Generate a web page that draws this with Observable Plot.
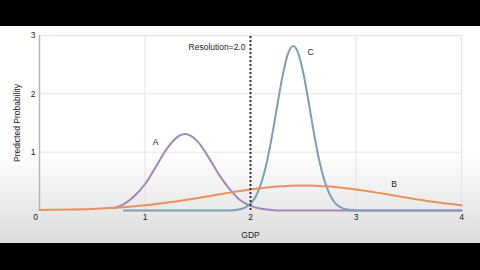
<!DOCTYPE html>
<html>
<head>
<meta charset="utf-8">
<script src="https://cdn.jsdelivr.net/npm/d3@7"></script>
<script src="https://cdn.jsdelivr.net/npm/@observablehq/plot@0.6"></script>
<style>
  html, body { margin: 0; padding: 0; background: #000; width: 480px; height: 270px; overflow: hidden; }
  #top { height: 26px; background: #000; }
  #chart { width: 480px; height: 217px; background: linear-gradient(to bottom, #ffffff 0%, #ffffff 58%, #dcdcdc 100%); }
</style>
</head>
<body>
<div id="top"></div>
<div id="chart"></div>
<script>
// Curve A (purple)
const xA = [0.7, 0.8, 0.9, 1.0, 1.1, 1.2, 1.3, 1.38, 1.5, 1.6, 1.7, 1.8, 1.9, 2.0, 2.1, 2.2, 2.3, 2.5, 3.0, 4.0];
const yA = [0.04, 0.11, 0.25, 0.45, 0.74, 1.04, 1.25, 1.31, 1.18, 0.92, 0.62, 0.37, 0.18, 0.08, 0.03, 0.01, 0, 0, 0, 0];
// Curve B (orange)
const xB = [0, 0.25, 0.5, 0.75, 1.0, 1.25, 1.5, 1.75, 2.0, 2.25, 2.5, 2.75, 3.0, 3.25, 3.5, 3.75, 4.0];
const yB = [0.01, 0.015, 0.027, 0.052, 0.09, 0.146, 0.215, 0.29, 0.36, 0.41, 0.43, 0.41, 0.36, 0.29, 0.215, 0.146, 0.09];
// Curve C (blue-grey)
const xC = [0.8, 1.8, 1.9, 2.0, 2.05, 2.1, 2.15, 2.2, 2.25, 2.3, 2.35, 2.405, 2.45, 2.5, 2.55, 2.6, 2.65, 2.7, 2.75, 2.8, 2.85, 2.9, 3.0, 4.0];
const yC = [0, 0, 0.02, 0.12, 0.24, 0.46, 0.79, 1.24, 1.76, 2.27, 2.66, 2.82, 2.71, 2.36, 1.87, 1.34, 0.87, 0.52, 0.28, 0.13, 0.06, 0.02, 0, 0];

const xTicks = [1, 2, 3, 4];
const yTicks = [1, 2, 3];
const resolution = 2.0;

const labelText = ["A", "B", "C"];
const labelX = [1.10, 3.36, 2.57];
const labelY = [1.17, 0.45, 2.72];

const toRows = (xs, ys) => xs.map((x, i) => ({x, y: ys[i]}));
const A = toRows(xA, yA), B = toRows(xB, yB), C = toRows(xC, yC);
const labels = labelText.map((t, i) => ({t, x: labelX[i], y: labelY[i]}));

const chart = Plot.plot({
  width: 480,
  height: 217,
  marginLeft: 39,
  marginRight: 19,
  marginTop: 9,
  marginBottom: 33,
  style: { background: "transparent", fontFamily: "'Liberation Sans', Arial, sans-serif", fontSize: "8.5px", color: "#222" },
  x: { domain: [0, 4] },
  y: { domain: [0, 3] },
  marks: [
    Plot.gridX(xTicks, { stroke: "#e3e3e3", strokeOpacity: 1 }),
    Plot.gridY(yTicks, { stroke: "#e3e3e3", strokeOpacity: 1 }),
    Plot.ruleX([0], { stroke: "#b5b5b5", strokeWidth: 1.5 }),
    Plot.axisX(xTicks, { tickSize: 0, tickPadding: 3, tickFormat: "d", label: "GDP", labelAnchor: "center", labelArrow: "none", labelOffset: 27 }),
    Plot.axisX([0], { tickSize: 0, tickPadding: 3, tickFormat: "d", dx: -4, label: null }),
    Plot.axisY(yTicks, { tickSize: 0, tickPadding: 4, tickFormat: "d", label: "Predicted Probability", labelAnchor: "center", labelArrow: "none", labelOffset: 26 }),
    Plot.line(A, { x: "x", y: "y", stroke: "#a088bd", strokeWidth: 2, curve: "monotone-x" }),
    Plot.line(C, { x: "x", y: "y", stroke: "#7c9fb5", strokeWidth: 2, curve: "monotone-x" }),
    Plot.line(B, { x: "x", y: "y", stroke: "#e8915f", strokeWidth: 2, curve: "monotone-x" }),
    Plot.ruleX([resolution], { y1: 0, y2: 3, stroke: "#333", strokeWidth: 2, strokeDasharray: "2,2" }),
    Plot.text([resolution], { x: d => d, y: 2.8, text: d => `Resolution=${d.toFixed(1)}`, textAnchor: "end", dx: -5, fill: "#222" }),
    Plot.text(labels, { x: "x", y: "y", text: "t", fill: "#222" })
  ]
});
document.getElementById("chart").appendChild(chart);
</script>
</body>
</html>
